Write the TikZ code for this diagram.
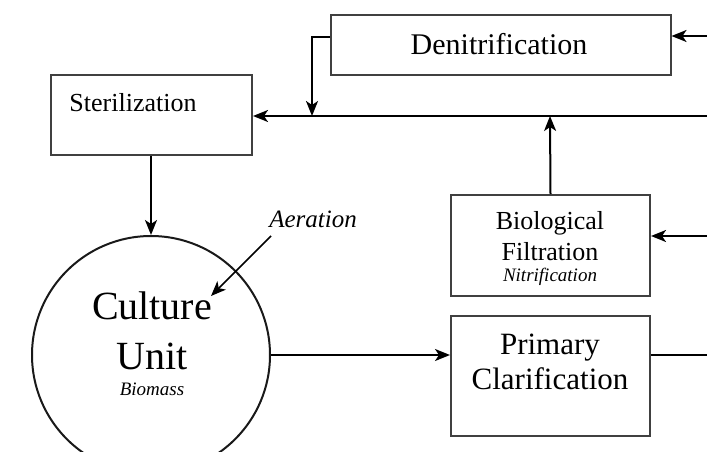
\documentclass[tikz,border=0pt]{standalone}
\usepackage{fontspec}
\setmainfont{Liberation Serif}
\usetikzlibrary{arrows.meta}
\tikzset{
  box/.style={draw=black!75, line width=2pt, rectangle, inner sep=0pt},
  conn/.style={draw=black, line width=2pt},
  arr/.style={conn, -{Stealth[length=15pt,width=12pt,inset=4pt]}},
  lbl/.style={inner sep=0pt, align=center, text=black}
}
\begin{document}
\begin{tikzpicture}[x=1pt,y=-1pt]
\useasboundingbox (0,0) rectangle (707,452);
\clip (0,0) rectangle (707,452);
% boxes
\node[box, minimum width=340pt, minimum height=60pt] (den) at (500.5,45) {};
\node[lbl, font=\fontsize{30}{32}\selectfont] (dentxt) at (499,44) {Denitrification};
\node[box, minimum width=201pt, minimum height=80pt] (ster) at (151.5,115) {};
\node[lbl, font=\fontsize{26}{28}\selectfont] (stertxt) at (133,103) {Sterilization};
\node[box, minimum width=199pt, minimum height=101pt] (bio) at (550.5,245.5) {};
\node[lbl, font=\fontsize{26}{31}\selectfont] (biotxt) at (550,236) {Biological\\Filtration};
\node[lbl, font=\fontsize{19}{20}\selectfont\itshape] (nitr) at (550,277) {Nitrification};
\node[box, minimum width=199pt, minimum height=120pt] (prim) at (550.5,375.5) {};
\node[lbl, font=\fontsize{31}{35}\selectfont] (primtxt) at (550,362) {Primary\\Clarification};
% culture unit
\node[draw=black!90, line width=2pt, circle, minimum size=238pt, inner sep=0pt] (cu) at (151,355) {};
\node[lbl, font=\fontsize{40}{50}\selectfont] (cutxt) at (152,331) {Culture\\Unit};
\node[lbl, font=\fontsize{19}{20}\selectfont\itshape] (bm) at (152,389) {Biomass};
\node[lbl, font=\fontsize{25}{26}\selectfont\itshape] (aer) at (313,219) {Aeration};
% free ends at the right edge
\coordinate (rtop) at (708,36);
\coordinate (rbot) at (708,355);
\coordinate (rmain) at (708,116);
\coordinate (rbio) at (708,236);
\coordinate (j1) at (312,116);
\coordinate (j2) at (550,116);
\coordinate (aerS) at (271,236);
\coordinate (aerE) at (211,296);
% connectors
\draw[arr] (rtop) -- (den.east |- rtop);
\draw[arr] (rmain) -- (ster.east |- rmain);
\draw[arr] (rbio) -- (bio.east |- rbio);
\draw[conn] (prim.east |- rbot) -- (rbot);
\draw[arr] (den.west |- 0,37) -| (j1);
\draw[arr] (bio.north) -- (j2);
\draw[arr] (ster.south -| cu.north) -- (cu.north);
\draw[arr] (cu.east) -- (prim.west |- cu.east);
\draw[arr, line width=1.6pt] (aerS) -- (aerE);
\end{tikzpicture}
\end{document}
